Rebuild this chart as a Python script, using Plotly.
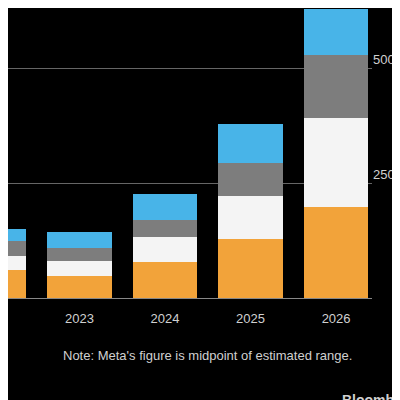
import plotly.graph_objects as go

years = [2022, 2023, 2024, 2025, 2026]
seg_orange = [61, 48, 78, 128, 198]
seg_white = [30, 32, 55, 94, 193]
seg_gray = [33, 29, 37, 71, 137]
seg_blue = [26, 34, 56, 85, 100]

colors = ["#f2a33a", "#f4f4f4", "#7d7d7d", "#48b4e8"]
fig = go.Figure()
for vals, c in zip([seg_orange, seg_white, seg_gray, seg_blue], colors):
    fig.add_trace(go.Bar(x=years, y=vals, marker=dict(color=c, line=dict(width=0)),
                         width=0.75, showlegend=False))

fig.update_layout(
    barmode="stack", width=400, height=400,
    paper_bgcolor="black", plot_bgcolor="black",
    margin=dict(l=0, r=36, t=0, b=110),
    font=dict(family="Liberation Sans, Arial", size=13, color="#d0d0d0"),
)
fig.update_xaxes(range=[2022.164, 2026.42], tickvals=years, ticktext=[str(y) for y in years],
                 showgrid=False, zeroline=False, showline=True, linecolor="#888", linewidth=1,
                 ticks="", ticklabelstandoff=8)
fig.update_yaxes(range=[0, 631], side="right", tickvals=[250, 500], ticktext=["250", "500"],
                 showgrid=True, gridcolor="#666", gridwidth=1, zeroline=False, ticks="",
                 ticklabelposition="outside top")
fig.add_annotation(text="Note: Meta's figure is midpoint of estimated range.",
                   xref="paper", yref="paper", x=0.951, y=-0.197, xanchor="right",
                   yanchor="middle", showarrow=False, font=dict(size=13, color="#d0d0d0"))
fig.add_annotation(text="<b>Bloomberg</b>", xref="paper", yref="paper", x=0.912, y=-0.318,
                   xanchor="left", yanchor="top", showarrow=False,
                   font=dict(size=14, color="#d0d0d0"))
fig.write_html("out.html")
